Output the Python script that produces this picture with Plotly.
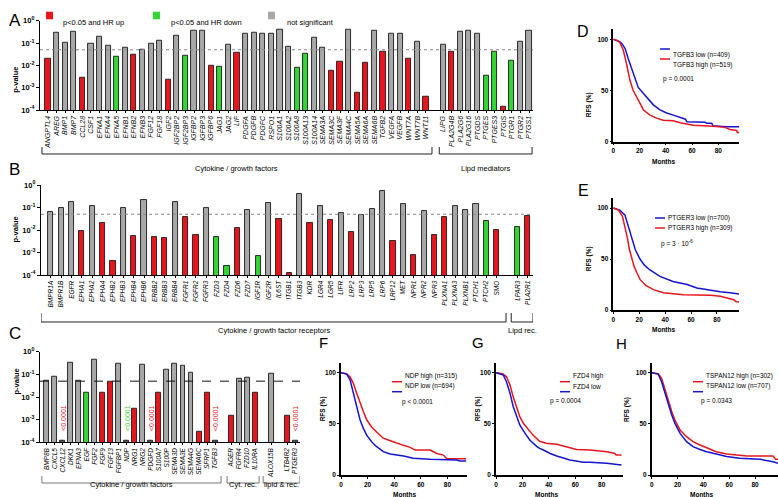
import plotly.graph_objects as go

W, H = 778, 497

# ---------------- Panel A: secreted factors ----------------
A_CYTO = ["ANGPTL4", "AREG", "BMP1", "BMP7", "CCL28", "CSF1", "EFNA1", "EFNA4",
          "EFNA5", "EFNB1", "EFNB2", "EFNB3", "FGF12", "FGF18", "IGF2", "IGF2BP2",
          "IGF2BP3", "IGFBP2", "IGFBP3", "IGFBP6", "JAG1", "JAG2", "LIF", "PDGFA",
          "PDGFB", "PDGFC", "RSPO1", "S100A1", "S100A2", "S100A8", "S100A13",
          "S100A14", "SEMA3A", "SEMA3C", "SEMA3F", "SEMA4C", "SEMA5A", "SEMA6A",
          "SEMA6B", "TGFB2", "VEGFA", "VEGFB", "WNT7A", "WNT7B", "WNT11"]
A_CYTO_P = [0.019, 0.30, 0.10, 0.33, 0.0028, 0.093, 0.19, 0.079,
            0.024, 0.064, 0.031, 0.052, 0.093, 0.13, 0.0022, 0.22,
            0.027, 0.37, 0.36, 0.010, 0.0087, 0.084, 0.038, 0.25,
            0.29, 0.27, 0.25, 0.41, 0.066, 0.0079, 0.033,
            0.18, 0.062, 0.0058, 0.014, 0.40, 0.00062, 0.013,
            0.36, 0.041, 0.27, 0.26, 0.019, 0.12, 0.00041]
A_CYTO_SIG = ["up", "ns", "ns", "ns", "up", "ns", "ns", "ns",
              "down", "ns", "up", "ns", "ns", "ns", "up", "ns",
              "down", "ns", "ns", "up", "down", "ns", "up", "ns",
              "ns", "ns", "ns", "ns", "ns", "down", "down",
              "ns", "ns", "up", "up", "ns", "up", "up",
              "ns", "up", "ns", "ns", "up", "ns", "up"]
A_LIPID = ["LIPG", "PLA2G4B", "PLA2G6", "PLA2G16", "PTGDS", "PTGES", "PTGES3",
           "PTGIS", "PTGR1", "PTGR2", "PTGS1"]
A_LIPID_P = [0.085, 0.040, 0.32, 0.37, 0.25, 0.0035, 0.041, 0.00014, 0.017, 0.12, 0.36]
A_LIPID_SIG = ["ns", "up", "ns", "ns", "ns", "down", "down", "up", "down", "ns", "ns"]

# ---------------- Panel B: receptors ----------------
B_REC = ["BMPR1A", "BMPR1B", "EGFR", "EPHA1", "EPHA2", "EPHA4", "EPHB2", "EPHB3",
         "EPHB4", "EPHB6", "ERBB2", "ERBB3", "ERBB4", "FGFR1", "FGFR2", "FGFR3",
         "FZD3", "FZD4", "FZD6", "FZD7", "IGF1R", "IGF2R", "IL6ST", "ITGB1",
         "ITGB3", "KDR", "LGR4", "LGR5", "LIFR", "LRP2", "LRP3", "LRP5", "LRP6",
         "LRP12", "MET", "NPR1", "NPR2", "NPR3", "PLXNA1", "PLXNA3", "PLXNB1",
         "PTCH1", "PTCH2", "SMO"]
B_REC_P = [0.061, 0.092, 0.18, 0.0087, 0.12, 0.020, 0.00044, 0.10,
           0.0054, 0.21, 0.0050, 0.0043, 0.18, 0.037, 0.0060, 0.092,
           0.0047, 0.00024, 0.012, 0.080, 0.00068, 0.16, 0.030, 0.00012,
           0.38, 0.020, 0.12, 0.027, 0.055, 0.0081, 0.046, 0.083, 0.56,
           0.0031, 0.14, 0.00075, 0.068, 0.0062, 0.037, 0.12, 0.077,
           0.14, 0.024, 0.0097]
B_REC_SIG = ["ns", "ns", "ns", "up", "ns", "up", "up", "ns",
             "up", "ns", "up", "up", "ns", "up", "up", "ns",
             "down", "down", "up", "ns", "down", "ns", "up", "up",
             "ns", "up", "ns", "up", "ns", "up", "ns", "ns", "ns",
             "up", "ns", "up", "ns", "up", "up", "ns", "ns",
             "ns", "down", "up"]
B_LIPID = ["LPAR3", "PLA2R1"]
B_LIPID_P = [0.013, 0.042]
B_LIPID_SIG = ["down", "up"]

# ---------------- Panel C: further factors ----------------
C_CYTO = ["BMP8B", "CXCL5", "CXCL12", "DKK1", "EFNA3", "EGF", "FGF2", "FGF9",
          "FGF13", "FGFBP1", "NDP", "NRG1", "NRG2", "PDGFD", "S100A7", "S100P",
          "SEMA3D", "SEMA3E", "SEMA4G", "SEMA6C", "SFRP1", "TGFB3"]
C_CYTO_P = [0.054, 0.079, 0.00012, 0.33, 0.051, 0.015, 0.43, 0.016,
            0.048, 0.29, 0.00012, 0.0029, 0.28, 0.00012, 0.015, 0.16,
            0.31, 0.24, 0.12, 0.00028, 0.016, 0.00012]
C_CYTO_SIG = ["ns", "ns", "up", "ns", "ns", "down", "ns", "up",
              "up", "ns", "down", "up", "ns", "up", "up", "ns",
              "ns", "ns", "ns", "up", "up", "up"]
C_CYTREC = ["AGER", "FGFR4", "FZD10", "IL10RA"]
C_CYTREC_P = [0.0015, 0.067, 0.074, 0.016]
C_CYTREC_SIG = ["up", "ns", "ns", "up"]
C_LIPID_A = ["ALOX15B"]
C_LIPID_A_P = [0.11]
C_LIPID_A_SIG = ["ns"]
C_LIPID_B = ["LTB4R2", "PTGER3"]
C_LIPID_B_P = [0.0015, 0.00012]
C_LIPID_B_SIG = ["up", "up"]
C_BELOW_LIMIT = ["CXCL12", "NDP", "PDGFD", "TGFB3", "PTGER3"]
BELOW_LIMIT_TEXT = "&lt;0.0001"
P_THRESHOLD = 0.05

# ---------------- Kaplan-Meier curves (months, RFS %) ----------------
D_LOW_M = [0, 3, 5, 7, 9, 11.4, 14, 16.5, 19, 23, 26.7, 30.5, 35.6, 40.6, 45.7,
           50.8, 55, 56, 66, 70, 71, 75, 76, 86, 96]
D_LOW_S = [100, 99, 97.7, 95, 91, 81, 72, 62, 53, 47, 42, 36, 31, 28, 26,
           24, 22, 19.5, 19, 19, 18, 18, 15.5, 14.6, 14.6]
D_HIGH_M = [0, 3, 5, 7.6, 10, 12.7, 15, 17.8, 20, 23, 28, 33, 38, 45.7, 51, 56,
            61, 76, 85, 89, 94, 94.5, 96]
D_HIGH_S = [100, 99, 97, 89.6, 76.5, 60, 50.5, 44, 37.5, 31, 26, 23, 21, 20.5, 18.5, 17,
            16, 15, 14, 12, 11, 9, 9]
E_LOW_M = [0, 3, 5, 9, 12, 15, 17, 20.6, 24, 28, 36, 46, 57, 64.5, 72, 82.6, 90, 97]
E_LOW_S = [100, 99, 98, 93, 80, 67, 59, 50, 44, 39.5, 33, 28, 25, 21.6, 20, 18, 17, 15.7]
E_HIGH_M = [0, 2, 4, 7, 9, 11, 12.5, 14.2, 16, 18, 20.6, 25, 31, 38.7, 54, 75, 82.6,
            90, 93, 95, 97]
E_HIGH_S = [100, 99, 98, 92, 82, 70, 59, 50, 43, 37, 30, 24, 20, 17, 15, 14.5, 13.4,
            11, 10, 8, 7.8]
F_HIGH_M = [0, 4, 6.8, 9.3, 11.8, 14.3, 16.8, 19.3, 23, 26.8, 31.8, 37, 42, 47, 52,
            55.6, 67, 72, 77, 79.5, 94]
F_HIGH_S = [100, 99, 96, 89.6, 80, 70, 62, 54, 47, 42, 36, 33.5, 31, 29, 27,
            24.4, 24.4, 21, 19.5, 16, 16]
F_LOW_M = [0, 4.3, 6.8, 9.3, 11.8, 14.3, 16.8, 19.3, 23, 26.8, 31.8, 37, 47, 54.4,
           67, 87, 89.5, 94]
F_LOW_S = [100, 98.7, 93, 80, 65, 54, 45.6, 39, 32.6, 27.7, 22.8, 20.5, 18.6, 16.3,
           15.3, 14.7, 13.7, 13.7]
G_HIGH_M = [0, 5, 8, 10.6, 13, 15.7, 18, 20.7, 24.5, 28, 33, 38, 46, 53.5, 61, 71,
            80, 84, 90, 91, 95]
G_HIGH_S = [100, 99, 96, 88, 76.5, 65, 57, 50.5, 44, 39, 33, 31, 30, 27.7, 25, 24.4,
            23, 22.8, 21, 19.5, 19.5]
G_LOW_M = [0, 3, 5.6, 8, 10.6, 13, 15.7, 18, 22, 25.7, 30.8, 33, 35.9, 41, 46, 56,
           66, 71, 83.8, 95]
G_LOW_S = [100, 99, 97.7, 91, 80, 67, 56, 49, 40.7, 34, 28, 26, 24.4, 21, 18.6, 14.7,
           12.5, 12.5, 11.4, 9.8]
H_HIGH_M = [0, 5, 7.7, 10.3, 12.9, 15.5, 18, 22, 27, 32, 37.4, 42.6, 50, 58, 68,
            73.5, 94, 96, 97.8]
H_HIGH_S = [100, 99, 94.5, 83, 71.7, 62, 53.7, 44, 37.5, 32.6, 29.3, 26.7, 22.8, 20.5,
            19.5, 18.6, 18.6, 15.3, 15.3]
H_LOW_M = [0, 5, 7.7, 10.3, 12.9, 15.5, 18, 22, 27, 32, 37.4, 42.6, 50, 58, 68, 84,
           94, 97.8]
H_LOW_S = [100, 98.7, 91, 80, 68, 58.6, 50.5, 40.7, 32.6, 27.7, 25, 22.8, 20.5, 18,
           16.3, 15.3, 13, 11.4]

RED = "#e8161c"
GREEN = "#33d633"
GREY = "#a8a8a8"
BLUE = "#1414d2"
SIG_COLORS = {"up": RED, "down": GREEN, "ns": GREY}
FONT = "Liberation Sans, Arial, sans-serif"


def fx(px):
    return px / W


def fy(py):
    return 1 - py / H


def layout_slots(groups):
    # one empty slot between groups
    pos, spans, i = [], [], 0
    for g in groups:
        spans.append((i, i + len(g) - 1))
        for _ in g:
            pos.append(i)
            i += 1
        i += 1
    return pos, spans


fig = go.Figure()
shapes = []
annotations = []


def bar_panel(n, groups, values, sigs, box, xrange, bar_width, label_size, brackets, thr_style):
    xa = "x" if n == 1 else "x%d" % n
    ya = "y" if n == 1 else "y%d" % n
    names = [nm for g in groups for nm in g]
    pos, spans = layout_slots(groups)
    colors = [SIG_COLORS[s] for s in sigs]
    for i, nm in enumerate(names):
        if n == 3 and nm in C_BELOW_LIMIT:
            colors[i] = "#555555"
    fig.add_trace(go.Bar(
        x=pos, y=values, width=bar_width, xaxis=xa, yaxis=ya,
        marker=dict(color=colors, line=dict(color="#1a1a1a", width=0.9)),
        showlegend=False, hoverinfo="skip",
    ))
    fig.add_trace(go.Scatter(
        x=list(xrange), y=[P_THRESHOLD, P_THRESHOLD], mode="lines", xaxis=xa, yaxis=ya,
        line=thr_style, showlegend=False, hoverinfo="skip",
    ))
    x0, x1, ytop, ybot = box
    key = "" if n == 1 else str(n)
    fig.layout["xaxis" + key] = dict(
        domain=[fx(x0), fx(x1)], range=list(xrange), anchor=ya, automargin=False,
        tickvals=pos, ticktext=["<i>%s</i>" % nm for nm in names], tickangle=-90,
        tickfont=dict(size=label_size, family=FONT, color="black"),
        ticks="outside", ticklen=2, tickwidth=0.8, tickcolor="black",
        showline=True, linewidth=1.3, linecolor="black", showgrid=False, zeroline=False,
    )
    fig.layout["yaxis" + key] = dict(
        domain=[fy(ybot), fy(ytop)], type="log", range=[-4, 0], anchor=xa, automargin=False,
        tickvals=[1e-4, 1e-3, 1e-2, 1e-1, 1],
        ticktext=["10<sup>-4</sup>", "10<sup>-3</sup>", "10<sup>-2</sup>",
                  "10<sup>-1</sup>", "10<sup>0</sup>"],
        tickfont=dict(size=7.5, family=FONT, color="black", weight="bold"),
        ticks="outside", ticklen=3, tickwidth=1, tickcolor="black",
        showline=True, linewidth=1.3, linecolor="black", showgrid=False, zeroline=False,
    )
    annotations.append(dict(
        text="<b>p-value</b>", x=fx(9), y=fy((ytop + ybot) / 2), xref="paper", yref="paper",
        textangle=-90, showarrow=False, font=dict(size=7.5, family=FONT, color="black"),
    ))
    # group brackets
    for (g0, g1), pad0, pad1, ylines, label, col in brackets:
        s0, s1 = spans[g0][0] - pad0, spans[g1][1] + pad1
        yt, yb, ylab = ylines
        shapes.append(dict(
            type="path", xref=xa, yref="paper",
            path="M %f,%f L %f,%f L %f,%f L %f,%f" % (s0, fy(yt), s0, fy(yb), s1, fy(yb), s1, fy(yt)),
            line=dict(color=col, width=1),
        ))
        annotations.append(dict(
            text=label, x=(s0 + s1) / 2, y=fy(ylab), xref=xa, yref="paper",
            showarrow=False, font=dict(size=7.5, family=FONT, color="black"),
        ))
    return names, pos


# A
bar_panel(
    1, [A_CYTO, A_LIPID], A_CYTO_P + A_LIPID_P, A_CYTO_SIG + A_LIPID_SIG,
    (40, 533, 20.7, 110), (-0.93, 56.46), 0.6, 7,
    [((0, 0), 0.7, 0.7, (147, 154, 162), "Cytokine / growth factors", "#222222"),
     ((1, 1), 0.45, 0.35, (147, 154, 162), "Lipd mediators", "#222222")],
    dict(color="#888888", width=1, dash="dot"),
)
# B
bar_panel(
    2, [B_REC, B_LIPID], B_REC_P + B_LIPID_P, B_REC_SIG + B_LIPID_SIG,
    (41, 533, 185, 275), (-0.94, 46.5), 0.5, 6.5,
    [((0, 0), 0.94, 0.9, (313, 322, 330), "Cytokine / growth factor receptors", "#222222"),
     ((1, 1), 0.6, 0.5, (313, 322, 330), "Lipd rec.", "#222222")],
    dict(color="#888888", width=1, dash="dot"),
)
# C
c_names, c_pos = bar_panel(
    3, [C_CYTO, C_CYTREC, C_LIPID_A, C_LIPID_B],
    C_CYTO_P + C_CYTREC_P + C_LIPID_A_P + C_LIPID_B_P,
    C_CYTO_SIG + C_CYTREC_SIG + C_LIPID_A_SIG + C_LIPID_B_SIG,
    (40, 300, 351.7, 442.3), (-0.84, 31.6), 0.62, 6.5,
    [((0, 0), 0.6, 0.75, (476, 483, 491), "Cytokine / growth factors", "#777777"),
     ((1, 1), 0.5, 0.5, (476, 483, 491), "Cyt. rec.", "#777777"),
     ((2, 3), 1.0, 0.6, (476, 483, 491), "lipid &amp; rec.", "#777777")],
    dict(color="#111111", width=1, dash="dash"),
)
c_sig = C_CYTO_SIG + C_CYTREC_SIG + C_LIPID_A_SIG + C_LIPID_B_SIG
for nm, p, s in zip(c_names, c_pos, c_sig):
    if nm in C_BELOW_LIMIT:
        annotations.append(dict(
            text=BELOW_LIMIT_TEXT, x=p, y=-2.93, xref="x3", yref="y3", textangle=-90,
            showarrow=False, font=dict(size=7, family=FONT, color=SIG_COLORS[s]),
        ))

# legend of bar panels
for (sx, tx, label, col) in [(46, 61, "p&lt;0.05 and HR up", RED),
                             (153, 169, "p&lt;0.05 and HR down", GREEN),
                             (268, 285, "not significant", GREY)]:
    shapes.append(dict(type="rect", xref="paper", yref="paper",
                       x0=fx(sx), x1=fx(sx + 7), y0=fy(19.3), y1=fy(11.7),
                       fillcolor=col, line=dict(width=0)))
    annotations.append(dict(text=label, x=fx(tx), y=fy(15.5), xref="paper", yref="paper",
                            xanchor="left", showarrow=False,
                            font=dict(size=7.5, family=FONT, color="black")))

# ---------------- KM panels ----------------
km_panels = [
    # n, curves, x0, x1, ytop(110%), ybot(0%), xmax, legend, pvalue
    (4, [(D_LOW_M, D_LOW_S, BLUE, "TGFB3 low (n=409)"), (D_HIGH_M, D_HIGH_S, RED, "TGFB3 high (n=519)")],
     613.3, 739.3, 29.1, 141.7, 96, (660, 49), (696, 73), "p = 0.0001"),
    (5, [(E_LOW_M, E_LOW_S, BLUE, "PTGER3 low (n=700)"), (E_HIGH_M, E_HIGH_S, RED, "PTGER3 high (n=309)")],
     613.3, 739, 197.8, 310, 97, (655, 218), (695, 243), "p = 3 · 10<sup>-6</sup>"),
    (6, [(F_HIGH_M, F_HIGH_S, RED, "NDP high (n=315)"), (F_LOW_M, F_LOW_S, BLUE, "NDP low (n=694)")],
     341, 467.4, 362.5, 475, 95, (392, 381.7), (417, 408), "p &lt; 0.0001"),
    (7, [(G_HIGH_M, G_HIGH_S, RED, "FZD4 high"), (G_LOW_M, G_LOW_S, BLUE, "FZD4 low")],
     496, 622.8, 362.5, 475, 96, (560, 381.7), (583, 406.7), "p = 0.0004"),
    (8, [(H_HIGH_M, H_HIGH_S, RED, "TSPAN12 high (n=302)"), (H_LOW_M, H_LOW_S, BLUE, "TSPAN12 low (n=707)")],
     651.7, 778, 362.5, 475, 97.8, (693, 381.7), (734, 406.7), "p = 0.0343"),
]
for n, curves, x0, x1, ytop, ybot, xmax, (lx, ly), (pxc, pyc), ptxt in km_panels:
    xa, ya = "x%d" % n, "y%d" % n
    for k, (m, s, col, label) in enumerate(curves):
        fig.add_trace(go.Scatter(x=m, y=s, mode="lines", xaxis=xa, yaxis=ya,
                                 line=dict(color=col, width=1.5, shape="linear"),
                                 showlegend=False, hoverinfo="skip"))
        yy = ly + 10 * k
        shapes.append(dict(type="line", xref="paper", yref="paper",
                           x0=fx(lx), x1=fx(lx + 10), y0=fy(yy), y1=fy(yy),
                           line=dict(color=col, width=1.5)))
        annotations.append(dict(text=label, x=fx(lx + 11), y=fy(yy), xref="paper", yref="paper",
                                xanchor="left", showarrow=False,
                                font=dict(size=6.5, family=FONT, color="black")))
    annotations.append(dict(text=ptxt, x=fx(pxc), y=fy(pyc), xref="paper", yref="paper",
                            showarrow=False,
                            font=dict(size=6.5, family=FONT, color="black")))
    annotations.append(dict(text="<b>RFS (%)</b>", x=fx(x0 - 18), y=fy(ybot - (ybot - ytop) * 50 / 110),
                            xref="paper", yref="paper", textangle=-90, showarrow=False,
                            font=dict(size=6.5, family=FONT, color="black")))
    annotations.append(dict(text="<b>Months</b>", x=fx(x0 + 0.5 * 96 * (x1 - x0) / xmax),
                            y=fy(ybot + 15), xref="paper", yref="paper", yanchor="top",
                            showarrow=False, borderpad=0,
                            font=dict(size=6.5, family=FONT, color="black")))
    fig.layout["xaxis%d" % n] = dict(
        domain=[fx(x0), fx(x1)], range=[0, xmax], anchor=ya, tickvals=[0, 20, 40, 60, 80],
        tickfont=dict(size=6.5, family=FONT, color="black", weight="bold"), automargin=False,
        ticks="outside", ticklen=2, tickwidth=1, tickcolor="black",
        showline=True, linewidth=1.5, linecolor="black", showgrid=False, zeroline=False,
    )
    fig.layout["yaxis%d" % n] = dict(
        domain=[fy(ybot), fy(ytop)], range=[0, 110], anchor=xa, tickvals=[0, 50, 100],
        tickfont=dict(size=6.5, family=FONT, color="black", weight="bold"), automargin=False,
        ticks="outside", ticklen=2, tickwidth=1, tickcolor="black",
        showline=True, linewidth=1.5, linecolor="black", showgrid=False, zeroline=False,
    )

# panel letters
for letter, lx, ly, size in [("A", 7, 9, 17), ("B", 7, 169, 17), ("C", 7, 345, 17),
                             ("D", 591, 21, 16), ("E", 591, 190, 16), ("F", 323, 353, 15),
                             ("G", 478, 353, 15), ("H", 629, 354, 15)]:
    annotations.append(dict(text=letter, x=fx(lx), y=fy(ly), xref="paper", yref="paper",
                            showarrow=False, font=dict(size=size, family=FONT, color="black")))

fig.update_layout(
    width=W, height=H, autosize=False,
    margin=dict(l=0, r=0, t=0, b=0, pad=0, autoexpand=False),
    paper_bgcolor="white", plot_bgcolor="white",
    shapes=shapes, annotations=annotations,
    font=dict(family=FONT, color="black"),
    bargap=0,
)

# page body has a default 8px margin; drop it so the figure fills the window
fig.write_html("out.html", config={"displayModeBar": False},
               post_script="document.body.style.margin = '0';")
